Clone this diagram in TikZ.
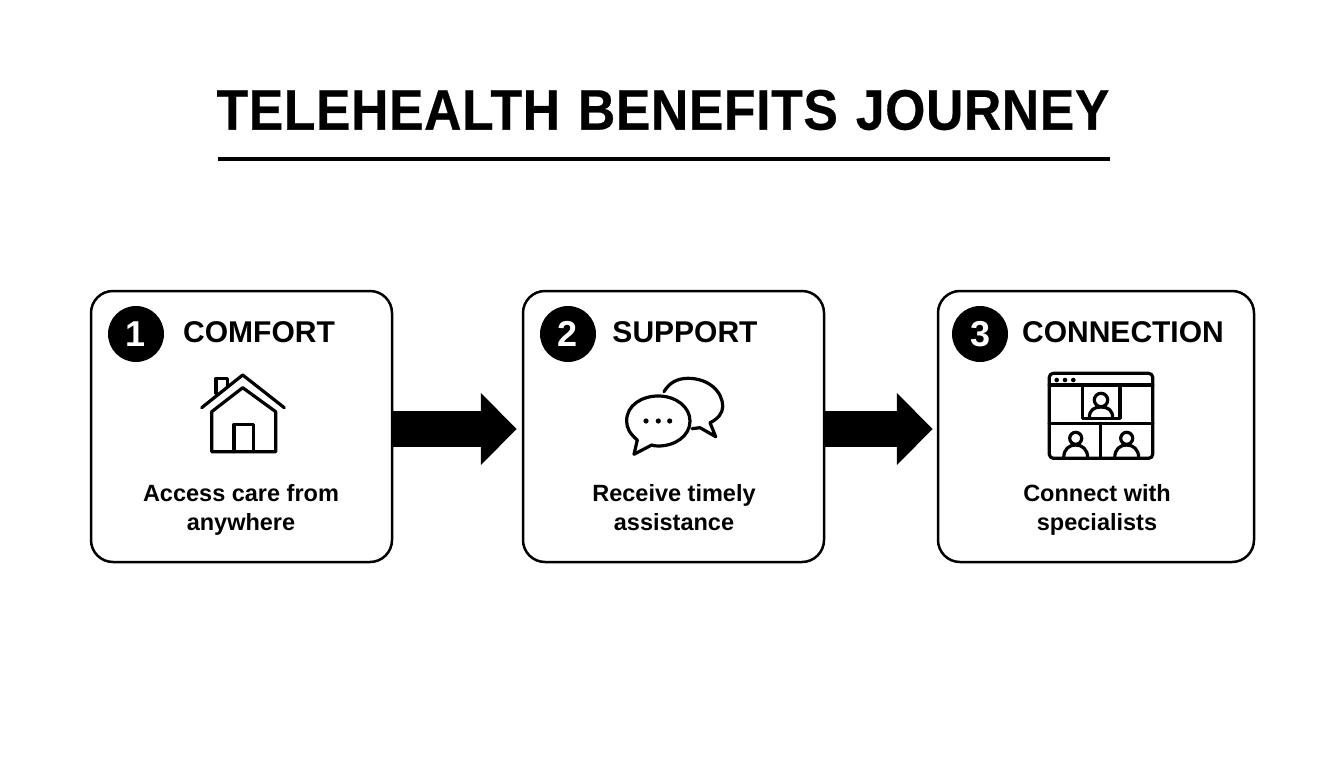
\documentclass[tikz,border=0pt]{standalone}
\usepackage{fontspec}
\setmainfont{Liberation Sans}
\newfontfamily\titlefont[FakeStretch=0.905,WordSpace=1.2,FakeBold=0.5,LetterSpace=1.2]{Liberation Sans}
\usetikzlibrary{calc}
\usetikzlibrary{arrows.meta}

\begin{document}
\begin{tikzpicture}[x=1pt, y=-1pt]

                \tikzstyle{card}   = [draw, rectangle, rounded corners=22pt, line width=2.5pt, minimum height=271pt, inner sep=0pt]
                \tikzstyle{badge}  = [circle, fill=black, minimum width=56pt, inner sep=0pt, text=white, font=\fontsize{36}{36}\selectfont\bfseries]
                \tikzstyle{head}   = [inner sep=0pt, font=\fontsize{30}{30}\selectfont\bfseries]
                \tikzstyle{desc}   = [inner sep=0pt, align=center, font=\fontsize{23.5}{29}\selectfont\bfseries]
                \tikzstyle{flow}   = [line width=36pt, -{Triangle[length=36pt, width=70pt]}]
                \tikzstyle{icon}   = [line width=3.2pt, line join=round, line cap=round]
                \useasboundingbox (0,0) rectangle (1344,768);
                \node [inner sep=0pt, font=\titlefont\fontsize{57}{57}\selectfont\bfseries](title) at (663,110) {TELEHEALTH BENEFITS JOURNEY};
                \coordinate (ruleL) at (218,159);
                \coordinate (ruleR) at (1110,159);
                \draw [line width=3.5pt] (ruleL) -- (ruleR);
                \node [card, minimum width=301pt](comfort) at (241.5,426.5) {};
                \node [card, minimum width=301pt](support) at (673.5,426.5) {};
                \node [card, minimum width=316pt](connection) at (1096,426.5) {};
                \node [badge](n1) at (136,334) {1};
                \node [badge](n2) at (568,334) {2};
                \node [badge](n3) at (980,334) {3};
                \node [head](h1) at (259,332) {COMFORT};
                \node [head](h2) at (685,332) {SUPPORT};
                \node [head](h3) at (1123,332) {CONNECTION};
                \node [desc](d1) at (241,510) {Access care from\\anywhere};
                \node [desc](d2) at (674,508) {Receive timely\\assistance};
                \node [desc](d3) at (1097,510) {Connect with\\specialists};
                \draw [flow] ([yshift=-2.5pt]comfort.east) -- ([xshift=-5pt, yshift=-2.5pt]support.west);
                \draw [flow] ([yshift=-2.5pt]support.east) -- ([xshift=-4pt, yshift=-2.5pt]connection.west);
                % house
                \draw [icon] (201.7,407.7) -- (242.7,375) -- (284.3,407.7);
                \draw [icon] (211.7,411.7) -- (242.7,387.7) -- (275.7,411.7) -- (275.7,451.7) -- (211.7,451.7) -- cycle;
                \draw [icon] (234,451.7) -- (234,424.3) -- (253.3,424.3) -- (253.3,451.7);
                \draw [icon] (216,393.3) -- (216,378.3) -- (227.3,378.3) -- (227.3,386.7);
                % speech bubbles
                \draw [icon] (637.3,440) .. controls (630,434) and (626.6,428) .. (626.6,421)
                        .. controls (626.6,405) and (642,396) .. (658.3,396)
                        .. controls (676,396) and (690,407) .. (690,421)
                        .. controls (690,436) and (675,446) .. (658.3,446)
                        .. controls (656,446) and (653,445.7) .. (651.7,445) -- (634,454.3) -- cycle;
                \draw [icon] (664,391.7) .. controls (669,383) and (677,378.3) .. (688,378.3)
                        .. controls (708,378.3) and (722.7,391) .. (722.7,406.7)
                        .. controls (722.7,413) and (718,419) .. (710,422.7)
                        -- (715.7,436.7) -- (700,427.7) -- (692,428.7);
                \fill (646,421) circle (2.6pt);
                \fill (658.3,421) circle (2.6pt);
                \fill (669.7,421) circle (2.6pt);
                % video call
                \draw [icon, rounded corners=4pt] (1049.3,373.3) rectangle (1152.7,458.3);
                \draw [icon] (1049.3,385) -- (1152.7,385);
                \draw [icon] (1049.3,423.3) -- (1152.7,423.3);
                \draw [icon] (1100.7,423.3) -- (1100.7,458.3);
                \draw [icon] (1082.7,385) -- (1082.7,418.3) -- (1120,418.3) -- (1120,385);
                \fill (1056.7,380) circle (2.3pt);
                \fill (1065,380) circle (2.3pt);
                \fill (1073.3,380) circle (2.3pt);
                \draw [icon] (1101,400) circle (6.7pt);
                \draw [icon] (1089.3,418) .. controls (1089.3,410) and (1094,407) .. (1101,407) .. controls (1108,407) and (1112.7,410) .. (1112.7,418);
                \draw [icon] (1075.7,438.3) circle (6pt);
                \draw [icon] (1063.7,458) .. controls (1063.7,449) and (1069,445) .. (1075.7,445) .. controls (1082,445) and (1087.7,449) .. (1087.7,458);
                \draw [icon] (1126.7,438.3) circle (6pt);
                \draw [icon] (1114.7,458) .. controls (1114.7,449) and (1120,445) .. (1126.7,445) .. controls (1133,445) and (1138.7,449) .. (1138.7,458);
\end{tikzpicture}
\end{document}
